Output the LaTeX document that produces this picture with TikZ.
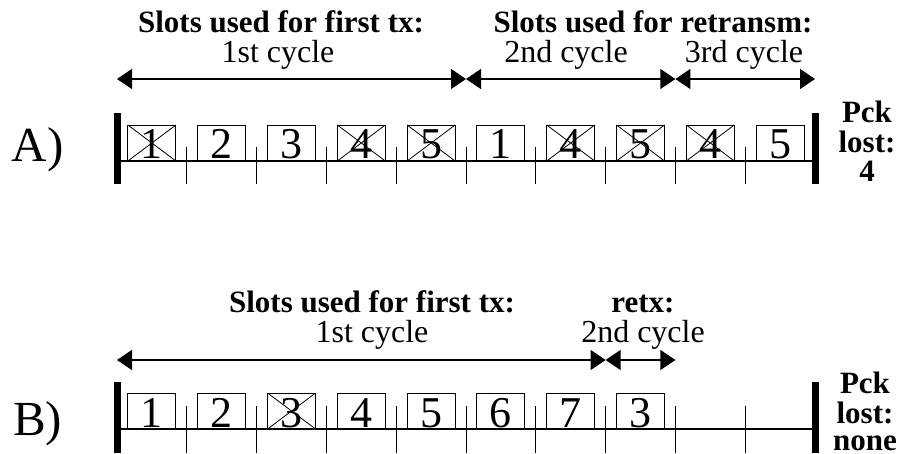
\documentclass[tikz,border=0pt]{standalone}
\usepackage{fontspec}
\setmainfont{Liberation Serif}
\usetikzlibrary{arrows.meta}

\begin{document}
\begin{tikzpicture}[x=1pt,y=-1pt,
  every node/.style={inner sep=0pt, outer sep=0pt},
  slotbox/.style={draw, line width=0.9pt, minimum width=48pt,
    text height=34pt, text depth=2pt, anchor=south,
    font=\fontsize{44}{44}\selectfont},
  lostbox/.style={slotbox, path picture={
    \draw[line width=0.8pt]
      (path picture bounding box.north west) -- (path picture bounding box.south east)
      (path picture bounding box.south west) -- (path picture bounding box.north east);}},
  head/.style={anchor=base, font=\fontsize{31}{30}\bfseries\selectfont},
  cyc/.style={anchor=base, font=\fontsize{32}{30}\selectfont},
  rowlabel/.style={anchor=base west, font=\fontsize{49}{49}\selectfont},
  pck/.style={anchor=base, align=center, font=\fontsize{31}{30}\bfseries\selectfont},
  span/.style={line width=1.3pt,
    {Triangle[length=15pt,width=20pt]}-{Triangle[length=15pt,width=20pt]}},
  axis/.style={line width=1.2pt},
  tick/.style={line width=1pt},
  endbar/.style={line width=7pt},
]
\useasboundingbox (0,0) rectangle (899,454);

% ---------------- Row A ----------------
\foreach \i in {0,...,10} \coordinate (a\i) at ({117+69.8*\i},161);
\draw[axis] (a0) -- (a10);
\foreach \i in {1,...,9} \draw[tick] ([yshift=14pt]a\i) -- ([yshift=-23pt]a\i);
\draw[endbar] ([yshift=48pt]a0) -- ([yshift=-23pt]a0);
\draw[endbar] ([yshift=48pt]a10) -- ([yshift=-23pt]a10);

\foreach \i/\d/\s in {1/1/lostbox, 2/2/slotbox, 3/3/slotbox, 4/4/lostbox, 5/5/lostbox,
                      6/1/slotbox, 7/4/lostbox, 8/5/lostbox, 9/4/lostbox, 10/5/slotbox}
  \node[\s] (boxA\i) at ({117+69.8*(\i-0.5)},161) {\d};

\node[rowlabel] (labA) at (12,162) {A)};
% multi-line label: base anchor sits on the last line
\node[pck] (lostA) at (867,182) {Pck\\lost:\\[-1pt]4};

\coordinate (arA0) at (117,79);
\coordinate (arA1) at ({117+69.8*5},79);
\coordinate (arA2) at ({117+69.8*8},79);
\coordinate (arA3) at (815,79);
\draw[span] (arA0) -- (arA1);
\draw[span] (arA1) -- (arA2);
\draw[span] (arA2) -- (arA3);

\node[head] (headA1) at (281,33) {Slots used for first tx:};
\node[cyc]  (cycA1)  at (278,63) {1st cycle};
\node[head] (headA2) at (653,33) {Slots used for retransm:};
\node[cyc]  (cycA2)  at (566,63) {2nd cycle};
\node[cyc]  (cycA3)  at (744,63) {3rd cycle};

% ---------------- Row B ----------------
\foreach \i in {0,...,10} \coordinate (b\i) at ({117+69.8*\i},429);
\draw[axis] (b0) -- (b10);
\foreach \i in {1,...,9} \draw[tick] ([yshift=23pt]b\i) -- ([yshift=-24pt]b\i);
\draw[endbar] ([yshift=47pt]b0) -- ([yshift=-24pt]b0);
\draw[endbar] ([yshift=47pt]b10) -- ([yshift=-24pt]b10);

\foreach \i/\d/\s in {1/1/slotbox, 2/2/slotbox, 3/3/lostbox, 4/4/slotbox,
                      5/5/slotbox, 6/6/slotbox, 7/7/slotbox, 8/3/slotbox}
  \node[\s] (boxB\i) at ({117+69.8*(\i-0.5)},429) {\d};

\node[rowlabel] (labB) at (13,435) {B)};
\node[pck] (lostB) at (865,450) {Pck\\lost:\\[-3pt]none};

\coordinate (arB0) at (117,360);
\coordinate (arB1) at ({117+69.8*7},360);
\coordinate (arB2) at ({117+69.8*8},360);
\draw[span] (arB0) -- (arB1);
\draw[span] (arB1) -- (arB2);

\node[head] (headB1) at (372,312) {Slots used for first tx:};
\node[cyc]  (cycB1)  at (372,342) {1st cycle};
\node[head] (headB2) at (643,312) {retx:};
\node[cyc]  (cycB2)  at (643,342) {2nd cycle};
\end{tikzpicture}
\end{document}
